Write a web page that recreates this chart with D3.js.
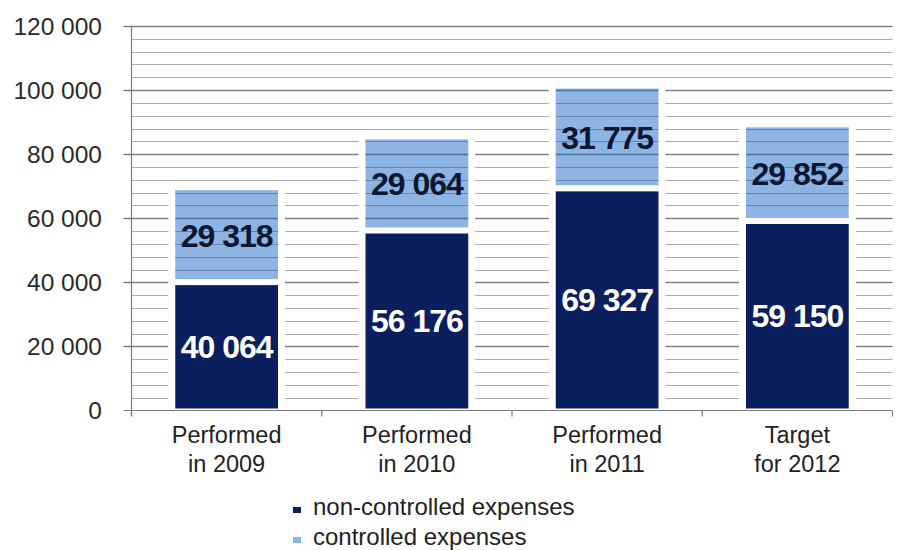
<!DOCTYPE html>
<html>
<head>
<meta charset="utf-8">
<script src="https://cdn.jsdelivr.net/npm/d3@7"></script>
<style>
  html, body { margin: 0; padding: 0; background: #fff; }
  svg { display: block; font-family: "Liberation Sans", Arial, sans-serif; }
</style>
</head>
<body>
<svg id="chart" width="906" height="550"></svg>
<script>
// Expenses by year (stacked): non-controlled at the bottom, controlled on top
const categories = [["Performed", "in 2009"], ["Performed", "in 2010"], ["Performed", "in 2011"], ["Target", "for 2012"]];
const nonControlled = [40064, 56176, 69327, 59150];
const controlled = [29318, 29064, 31775, 29852];
const yTicks = [0, 20000, 40000, 60000, 80000, 100000, 120000];
const seriesNames = ["non-controlled expenses", "controlled expenses"];

const colors = { dark: "#0b1f5e", light: "#8db4e2" };
const fmt = v => d3.format(",")(v).replace(/,/g, " ");

const svg = d3.select("#chart");
const plot = { left: 131.5, right: 892.5, top: 26, bottom: 410.5 };

const x = d3.scaleBand().domain(d3.range(categories.length)).range([plot.left, plot.right]).padding(0);
const y = d3.scaleLinear().domain([0, 120000]).range([plot.bottom, plot.top]);
const barW = x.bandwidth() * 0.54;
const barX = i => x(i) + (x.bandwidth() - barW) / 2;

const minorVals = d3.range(4000, 120001, 4000);

// horizontal grid lines (every 4 000, darker every 20 000)
svg.append("g").selectAll("line").data(minorVals).join("line")
  .attr("x1", d => d % 20000 === 0 ? plot.left - 8 : plot.left)
  .attr("x2", plot.right)
  .attr("y1", d => Math.round(y(d)) + 0.5).attr("y2", d => Math.round(y(d)) + 0.5)
  .attr("stroke", d => d % 20000 === 0 ? "#7f7f7f" : "#ababab")
  .attr("stroke-width", d => d % 20000 === 0 ? 1.4 : 1);

// white halo around each column
svg.append("g").selectAll("rect").data(d3.range(categories.length)).join("rect")
  .attr("x", i => barX(i) - 7).attr("width", barW + 14)
  .attr("y", i => y(nonControlled[i] + controlled[i]) - 3)
  .attr("height", i => plot.bottom - y(nonControlled[i] + controlled[i]) + 2)
  .attr("fill", "#fff");

// bottom segments
svg.append("g").selectAll("rect").data(d3.range(categories.length)).join("rect")
  .attr("x", barX).attr("width", barW)
  .attr("y", i => y(nonControlled[i]) + 3)
  .attr("height", i => y(0) - y(nonControlled[i]) - 5)
  .attr("fill", colors.dark);

// top segments
svg.append("g").selectAll("rect").data(d3.range(categories.length)).join("rect")
  .attr("x", barX).attr("width", barW)
  .attr("y", i => y(nonControlled[i] + controlled[i]) + 2)
  .attr("height", i => y(nonControlled[i]) - y(nonControlled[i] + controlled[i]) - 5)
  .attr("fill", colors.light);

// grid lines showing through the light segments
const gSeg = svg.append("g");
d3.range(categories.length).forEach(i => {
  const lo = nonControlled[i], hi = nonControlled[i] + controlled[i];
  gSeg.selectAll(null).data(minorVals.filter(v => y(v) > y(hi) + 3 && y(v) < y(lo) - 4)).join("line")
    .attr("x1", barX(i)).attr("x2", barX(i) + barW)
    .attr("y1", d => Math.round(y(d)) + 0.5).attr("y2", d => Math.round(y(d)) + 0.5)
    .attr("stroke", "#466890").attr("stroke-opacity", d => d % 20000 === 0 ? 0.85 : 0.6)
    .attr("stroke-width", d => d % 20000 === 0 ? 1.4 : 1);
});

// y axis line and labels
svg.append("line").attr("x1", plot.left).attr("x2", plot.left)
  .attr("y1", plot.top).attr("y2", plot.bottom + 5).attr("stroke", "#7a7a7a").attr("stroke-width", 1.2);
svg.append("g").selectAll("text").data(yTicks).join("text")
  .attr("x", 102).attr("y", d => y(d)).attr("dy", "0.35em")
  .attr("text-anchor", "end").attr("font-size", 24.5).attr("fill", "#2b2b2b")
  .text(fmt);

// x axis line and category separators
svg.append("line").attr("x1", plot.left - 8).attr("x2", plot.right)
  .attr("y1", plot.bottom).attr("y2", plot.bottom).attr("stroke", "#7a7a7a").attr("stroke-width", 1.2);
svg.append("g").selectAll("line").data(d3.range(categories.length + 1)).join("line")
  .attr("x1", i => i < categories.length ? x(i) : plot.right)
  .attr("x2", i => i < categories.length ? x(i) : plot.right)
  .attr("y1", plot.bottom).attr("y2", plot.bottom + 6)
  .attr("stroke", "#7a7a7a").attr("stroke-width", 1.2);

// category labels
const cat = svg.append("g").selectAll("text").data(categories).join("text")
  .attr("text-anchor", "middle").attr("font-size", 23.5).attr("fill", "#222");
cat.each(function (d, i) {
  d3.select(this).selectAll("tspan").data(d).join("tspan")
    .attr("x", x(i) + x.bandwidth() / 2)
    .attr("y", (t, k) => 443 + k * 29)
    .text(t => t);
});

// value labels
const lab = svg.append("g").attr("font-weight", "bold").attr("font-size", 32)
  .attr("letter-spacing", "-1px").attr("text-anchor", "middle");
lab.selectAll(".vd").data(nonControlled).join("text").attr("class", "vd")
  .attr("x", (d, i) => barX(i) + barW / 2).attr("y", d => y(d / 2)).attr("dy", "0.36em")
  .attr("fill", "#fff").text(fmt);
lab.selectAll(".vl").data(controlled).join("text").attr("class", "vl")
  .attr("x", (d, i) => barX(i) + barW / 2).attr("y", (d, i) => y(nonControlled[i] + d / 2)).attr("dy", "0.36em")
  .attr("fill", "#0c1630").text(fmt);

// legend
const leg = svg.append("g").selectAll("g").data(seriesNames).join("g")
  .attr("transform", (d, i) => `translate(293, ${515 + i * 30})`);
leg.append("rect").attr("x", 0).attr("y", -8).attr("width", 8).attr("height", 6)
  .attr("fill", (d, i) => i === 0 ? colors.dark : colors.light);
leg.append("text").attr("x", 20).attr("y", 0).attr("font-size", 24).attr("fill", "#222").text(d => d);
</script>
</body>
</html>
